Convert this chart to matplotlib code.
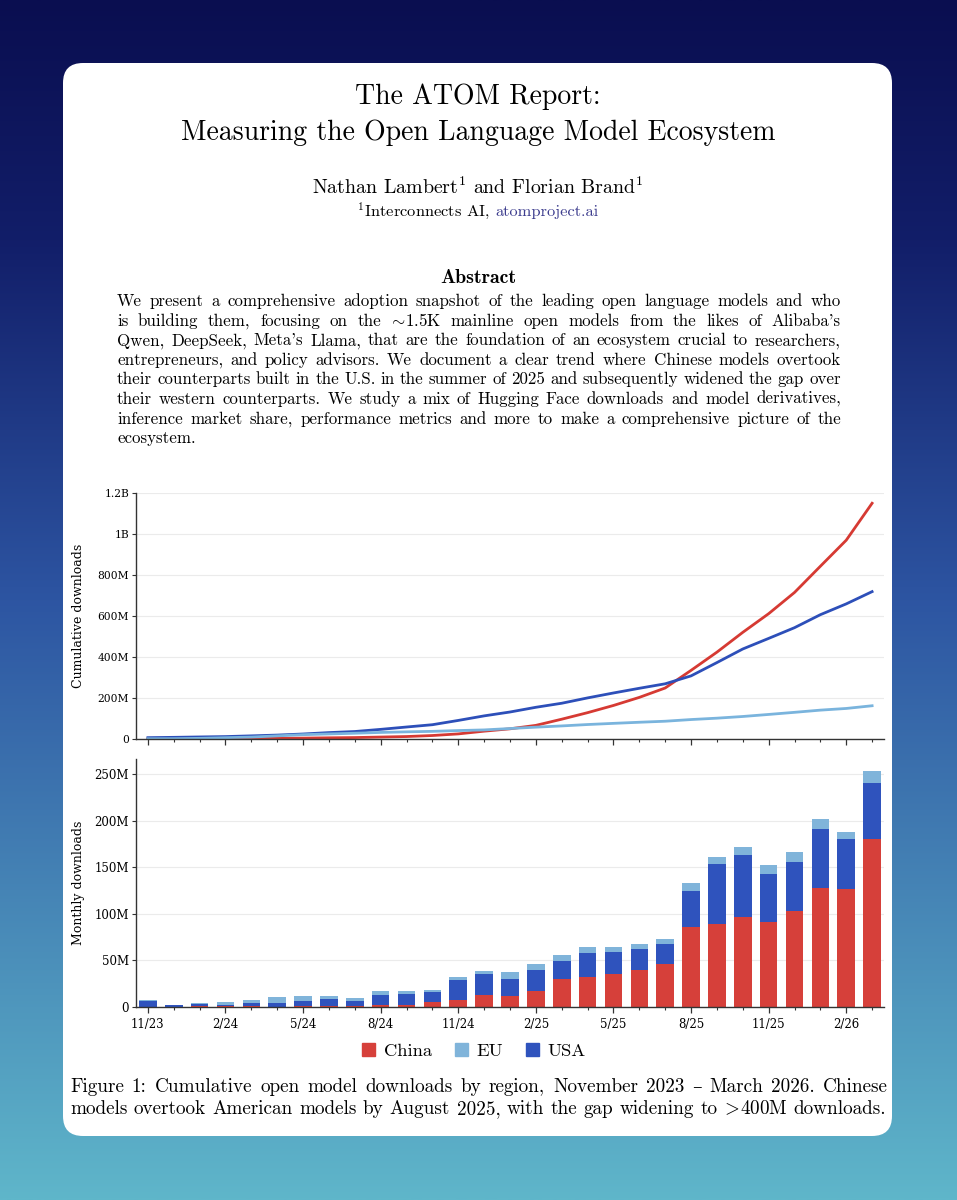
import numpy as np
import matplotlib
matplotlib.use("Agg")
import matplotlib.pyplot as plt
from matplotlib.patches import FancyBboxPatch, Patch
from matplotlib.ticker import FuncFormatter, MultipleLocator

plt.rcParams['font.family'] = 'DejaVu Serif'
plt.rcParams['mathtext.fontset'] = 'cm'

# monthly downloads (millions), Nov 2023 .. Mar 2026
month_labels = ["11/23", "12/23", "1/24", "2/24", "3/24", "4/24", "5/24", "6/24", "7/24",
                "8/24", "9/24", "10/24", "11/24", "12/24", "1/25", "2/25", "3/25", "4/25",
                "5/25", "6/25", "7/25", "8/25", "9/25", "10/25", "11/25", "12/25", "1/26",
                "2/26", "3/26"]
china = [0.2, 0.2, 1.0, 0.8, 0.8, 0.5, 0.8, 1.5, 1.2, 2.5, 2.5, 5.0, 7.9, 13.3, 11.5,
         16.8, 30.1, 31.9, 35.1, 39.4, 45.8, 86.0, 88.8, 96.7, 91.0, 103.5, 127.9, 127.1, 180.2]
usa = [6.5, 1.6, 1.9, 1.8, 3.5, 3.8, 5.3, 6.8, 5.3, 10.5, 11.5, 11.2, 20.9, 22.2, 18.9,
       23.0, 19.7, 26.1, 24.0, 22.9, 21.9, 38.6, 64.9, 66.3, 51.6, 52.3, 63.4, 52.7, 59.8]
eu = [1.2, 0.3, 1.7, 3.2, 2.9, 6.1, 5.7, 3.5, 3.5, 3.9, 2.9, 2.4, 3.9, 3.1, 6.8,
      6.7, 6.0, 6.8, 5.7, 5.4, 5.0, 8.2, 6.7, 8.2, 10.0, 10.3, 10.7, 8.2, 13.2]

abstract_lines = [
    "We present a comprehensive adoption snapshot of the leading open language models and who",
    "is building them, focusing on the $\\!\\sim\\!$1.5K mainline open models from the likes of Alibaba's",
    "Qwen, DeepSeek, Meta's Llama, that are the foundation of an ecosystem crucial to researchers,",
    "entrepreneurs, and policy advisors. We document a clear trend where Chinese models overtook",
    "their counterparts built in the U.S. in the summer of 2025 and subsequently widened the gap over",
    "their western counterparts. We study a mix of Hugging Face downloads and model derivatives,",
    "inference market share, performance metrics and more to make a comprehensive picture of the",
    "ecosystem.",
]
caption_lines = [
    "Figure 1: Cumulative open model downloads by region, November 2023 \u2013 March 2026. Chinese",
    "models overtook American models by August 2025, with the gap widening to $\\!>\\!$400M downloads.",
]

C_RED = "#d6403a"
C_USA = "#2f53bd"
C_EU = "#80b4da"

W, H = 957, 1200
fig = plt.figure(figsize=(W / 100, H / 100), dpi=100)

# page background + white card, in pixel coords
bg = fig.add_axes([0, 0, 1, 1])
bg.set_zorder(-1)
bg.set_xlim(0, W)
bg.set_ylim(H, 0)
bg.axis('off')
t = np.linspace(0, 1, 400)
stops = [0, 0.2, 0.5, 1.0]
cols = np.array([[10, 14, 80], [18, 30, 105], [45, 85, 162], [95, 182, 202]]) / 255
grad = np.stack([np.interp(t, stops, cols[:, k]) for k in range(3)], axis=-1)[:, None, :]
bg.imshow(grad, extent=[0, W, H, 0], aspect='auto', interpolation='bilinear')
bg.add_patch(FancyBboxPatch((63, 63), 829, 1073, boxstyle="round,pad=0,rounding_size=20",
                            fc='white', ec='none'))

serif = ['cmr10', 'DejaVu Serif']
renderer = fig.canvas.get_renderer()


def width_of(txt):
    return txt.get_window_extent(renderer).width


def space_width(size):
    a = bg.text(0, 0, 'a', family=serif, fontsize=size)
    b = bg.text(0, 0, 'a a', family=serif, fontsize=size)
    sw = width_of(b) - 2 * width_of(a)
    a.remove()
    b.remove()
    return sw


def justified(line, x0, x1, y, size, stretch=True):
    words = line.split(' ')
    ts = [bg.text(0, y, w, family=serif, fontsize=size, va='baseline') for w in words]
    ws = [width_of(tt) for tt in ts]
    if stretch and len(ts) > 1:
        gap = (x1 - x0 - sum(ws)) / (len(ts) - 1)
    else:
        gap = space_width(size)
    x = x0
    for tt, w in zip(ts, ws):
        tt.set_x(x)
        x += w + gap


bg.text(478, 104, "The ATOM Report:", family=serif, fontsize=20, ha='center', va='baseline')
bg.text(478, 140, "Measuring the Open Language Model Ecosystem", family=serif, fontsize=20,
        ha='center', va='baseline')
bg.text(478, 194, "Nathan Lambert$^1$ and Florian Brand$^1$", family=serif, fontsize=14.3,
        ha='center', va='baseline')
a1 = bg.text(0, 216, "$^1$Interconnects AI,", family=serif, fontsize=11.8, va='baseline')
a2 = bg.text(0, 216, "atomproject.ai", family=serif, fontsize=11.8, va='baseline', color='#3d3d8e')
w1, w2, sp = width_of(a1), width_of(a2), space_width(11.8)
a1.set_x(478 - (w1 + sp + w2) / 2)
a2.set_x(478 - (w1 + sp + w2) / 2 + w1 + sp)

bg.text(478, 283, "Abstract", family=['cmb10', 'DejaVu Serif'], fontsize=14.3, ha='center',
        va='baseline')
for i, line in enumerate(abstract_lines):
    justified(line, 117, 841, 306 + 19.6 * i, 12.2, stretch=i < len(abstract_lines) - 1)
for i, line in enumerate(caption_lines):
    justified(line, 70, 888, 1092 + 22 * i, 13.8, stretch=i == 0)

# charts
x = np.arange(len(month_labels))
cum_china = np.cumsum(china) * 1e6
cum_usa = np.cumsum(usa) * 1e6
cum_eu = np.cumsum(eu) * 1e6


def fmt(v, pos):
    if v == 0:
        return "0"
    if v >= 1e9:
        return f"{v / 1e9:g}B"
    return f"{v / 1e6:g}M"


ax1 = fig.add_axes([136 / W, 1 - 739 / H, 748 / W, 246 / H])
ax2 = fig.add_axes([136 / W, 1 - 1007 / H, 748 / W, 248 / H])

ax1.plot(x, cum_china, color="#d63a33", lw=2.0)
ax1.plot(x, cum_usa, color="#2d4fb9", lw=2.0)
ax1.plot(x, cum_eu, color="#7ab4dd", lw=2.0)
ax1.set_ylim(0, 1.2e9)
ax1.yaxis.set_major_locator(MultipleLocator(2e8))
ax1.set_ylabel("Cumulative downloads", fontsize=9)
ax1.tick_params(axis='y', labelsize=7.7)

ch = np.array(china) * 1e6
us = np.array(usa) * 1e6
e = np.array(eu) * 1e6
ax2.bar(x, ch, width=0.68, color=C_RED, label="China", zorder=2)
ax2.bar(x, us, width=0.68, bottom=ch, color=C_USA, label="USA", zorder=2)
ax2.bar(x, e, width=0.68, bottom=ch + us, color=C_EU, label="EU", zorder=2)
ax2.set_ylim(0, 266e6)
ax2.yaxis.set_major_locator(MultipleLocator(5e7))
ax2.set_ylabel("Monthly downloads", fontsize=9)
ax2.tick_params(axis='y', labelsize=8.5)

for ax in (ax1, ax2):
    ax.set_xlim(-0.46, len(x) - 0.54)
    ax.yaxis.set_major_formatter(FuncFormatter(fmt))
    ax.set_xticks(x[::3])
    ax.set_xticks(x, minor=True)
    ax.grid(axis='y', color='#ebebeb', lw=0.8, zorder=0)
    ax.set_axisbelow(True)
    for s in ('top', 'right'):
        ax.spines[s].set_visible(False)
    for s in ('left', 'bottom'):
        ax.spines[s].set_color('#333333')
        ax.spines[s].set_linewidth(1.0)
    ax.tick_params(axis='x', which='major', length=4.5, width=0.9, color='#333333')
    ax.tick_params(axis='x', which='minor', length=2.5, width=0.8, color='#333333')
    ax.tick_params(axis='y', length=3, width=0.8, color='#333333', pad=2)
    ax.yaxis.set_label_coords(-0.068, 0.5)
ax1.set_xticklabels([])
ax2.set_xticklabels(month_labels[::3], fontsize=8.5)

handles = [Patch(color=C_RED, label="China"), Patch(color=C_EU, label="EU"),
           Patch(color=C_USA, label="USA")]
fig.legend(handles=handles, loc='center', bbox_to_anchor=(474 / W, 1 - 1051 / H), ncol=3,
           frameon=False, prop={'family': 'cmr10', 'size': 13.4}, handlelength=0.7,
           handleheight=0.7, handletextpad=0.45, columnspacing=1.25)

fig.savefig("out.png", dpi=100)
